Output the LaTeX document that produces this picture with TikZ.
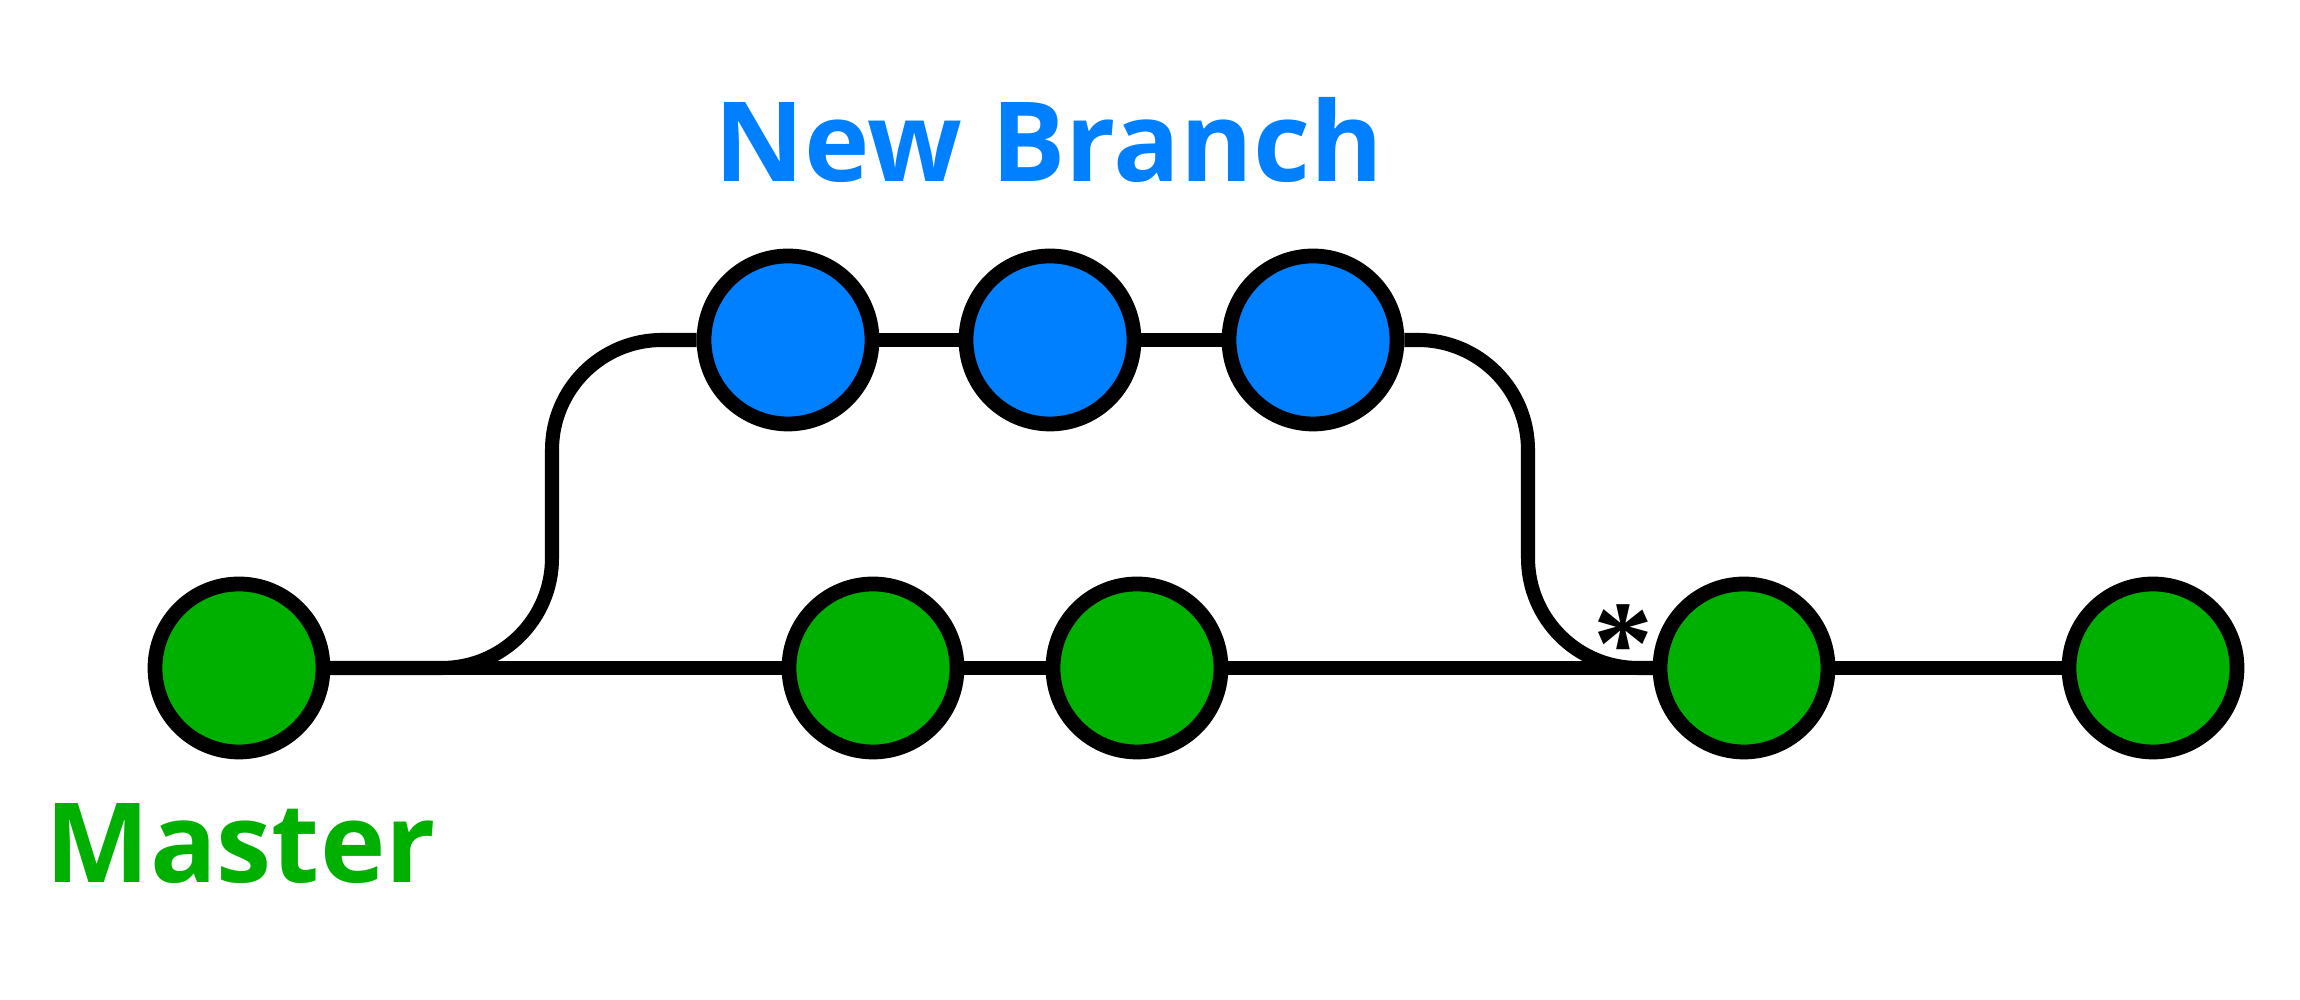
\documentclass[tikz,border=0pt]{standalone}
\usepackage{fontspec}
\setmainfont{Open Sans}
\newfontfamily\starfont{Liberation Serif}
\usepackage{tikz}
\usetikzlibrary{positioning}
\definecolor{branchblue}{RGB}{0,128,255}
\definecolor{mastergreen}{RGB}{0,176,0}

\begin{document}
\begin{tikzpicture}[commit/.style={circle, draw=black, line width=4.2pt, minimum size=1.68cm, inner sep=0pt},
                    link/.style={draw=black, line width=4pt},
                    every node/.style={font=\bfseries}]
                \useasboundingbox (0,0) rectangle (23,10);
                % master commits
                \node [commit, fill=mastergreen] (m1) at (2.39,3.32) {};
                \node [commit, fill=mastergreen] (m2) at (8.73,3.32) {};
                \node [commit, fill=mastergreen] (m3) at (11.37,3.32) {};
                \node [commit, fill=mastergreen] (m4) at (17.44,3.32) {};
                \node [commit, fill=mastergreen] (m5) at (21.53,3.32) {};
                % branch commits
                \node [commit, fill=branchblue] (b1) at (7.88,6.60) {};
                \node [commit, fill=branchblue] (b2) at (10.50,6.60) {};
                \node [commit, fill=branchblue] (b3) at (13.13,6.60) {};
                \draw [link] (m1) -- (m2);
                \draw [link] (m2) -- (m3);
                \draw [link] (m3) -- (m4);
                \draw [link] (m4) -- (m5);
                \draw [link] (b1) -- (b2);
                \draw [link] (b2) -- (b3);
                \draw [link, rounded corners=1.1cm] (m1) -- (5.52,3.32) -- (5.52,6.60) -- (b1);
                \draw [link, rounded corners=1.1cm] (b3) -- (15.28,6.60) -- (15.28,3.32) -- (m4);
                \node [inner sep=0pt, font=\fontsize{34}{40}\starfont\bfseries] (merge) at (16.23,3.56) {*};
                % labels
                \node [anchor=base west, inner sep=0pt, text=branchblue, font=\fontsize{31.5}{38}\selectfont\bfseries] (branchlabel) at (7.14,8.18) {New Branch};
                \node [anchor=base west, inner sep=0pt, text=mastergreen, font=\fontsize{31.5}{38}\selectfont\bfseries] (masterlabel) at (0.45,1.17) {Master};
            \end{tikzpicture}
\end{document}
